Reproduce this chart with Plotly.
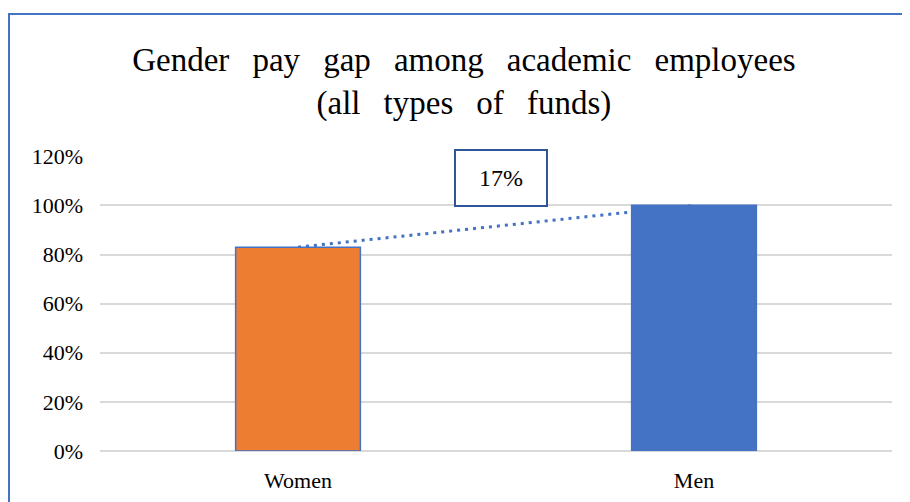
import plotly.graph_objects as go

# data
groups = ["Women", "Men"]
pay_share = [0.83, 1.00]
bar_colors = ["#ED7D31", "#4472C4"]
gap_label = f"{round((pay_share[1] - pay_share[0]) * 100)}%"

serif = "Liberation Serif, Times New Roman, serif"

fig = go.Figure()

fig.add_trace(go.Bar(
    x=groups, y=pay_share,
    marker=dict(color=bar_colors, line=dict(color="#4472C4", width=1.5)),
    width=0.315, showlegend=False,
))

# dotted connector between the bar tops, kept under the bars
fig.add_shape(
    type="line", xref="x", yref="y",
    x0=groups[0], y0=pay_share[0], x1=groups[1], y1=pay_share[1],
    line=dict(color="#4472C4", width=3, dash="3px,5px"),
    layer="between",
)

fig.add_annotation(
    x=0.5, y=1.11, xref="x", yref="y", xshift=5,
    text=gap_label, showarrow=False,
    font=dict(family=serif, size=24, color="#000000"),
    bordercolor="#2F5597", borderwidth=2, borderpad=13,
    bgcolor="white", width=64, height=28,
)

# outer chart frame (only top and left edges visible in the crop)
fig.add_shape(
    type="rect", xref="paper", yref="paper",
    x0=-0.1149, x1=1.1, y0=-0.4, y1=1.4814,
    line=dict(color="#4472C4", width=2), layer="below",
)

sp = "\u2002\u2009"
title_text = (sp.join(["Gender", "pay", "gap", "among", "academic", "employees"])
              + "<br>" + sp.join(["(all", "types", "of", "funds)"]))

fig.update_layout(
    width=910, height=502,
    margin=dict(l=92, r=26, t=148, b=59),
    paper_bgcolor="white", plot_bgcolor="white",
    title=dict(
        text=title_text,
        font=dict(family=serif, size=33, color="#000000"),
        x=0.501, xanchor="center", xref="container",
        y=1 - 63 / 502, yanchor="middle", yref="container",
    ),
    xaxis=dict(
        showgrid=False, showline=False, zeroline=False,
        tickfont=dict(family=serif, size=22, color="#000000"),
        ticklabelstandoff=14,
    ),
    yaxis=dict(
        range=[0, 1.201], tickvals=[0, 0.2, 0.4, 0.6, 0.8, 1.0, 1.2],
        tickformat=".0%",
        showgrid=True, gridcolor="#D9D9D9", gridwidth=1.5,
        zeroline=True, zerolinecolor="#D9D9D9", zerolinewidth=1.5,
        showline=False,
        tickfont=dict(family=serif, size=22, color="#000000"),
        ticklabelstandoff=16,
    ),
)

fig.write_html("out.html")
